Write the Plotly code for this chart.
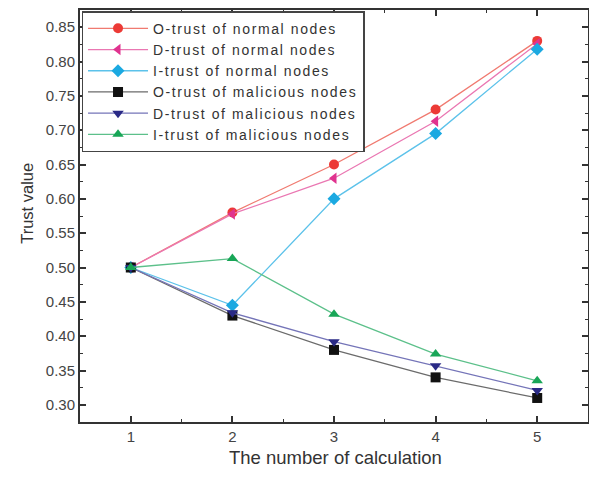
import plotly.graph_objects as go

x_vals = [1, 2, 3, 4, 5]
o_normal = [0.500, 0.580, 0.650, 0.730, 0.830]
d_normal = [0.500, 0.578, 0.630, 0.713, 0.826]
i_normal = [0.500, 0.445, 0.600, 0.695, 0.818]
o_mal = [0.500, 0.430, 0.380, 0.340, 0.310]
d_mal = [0.500, 0.434, 0.392, 0.357, 0.321]
i_mal = [0.500, 0.513, 0.432, 0.374, 0.335]

series = [
    ("O-trust of normal nodes", o_normal, "#ec3a36", "#f07a70", "circle"),
    ("D-trust of normal nodes", d_normal, "#e0338f", "#ea77b2", "triangle-left"),
    ("I-trust of normal nodes", i_normal, "#1ba9e1", "#5cc2ea", "diamond"),
    ("O-trust of malicious nodes", o_mal, "#111111", "#6b6b6b", "square"),
    ("D-trust of malicious nodes", d_mal, "#2a2a86", "#7474b8", "triangle-down"),
    ("I-trust of malicious nodes", i_mal, "#18a657", "#5cc08a", "triangle-up"),
]

FONT = "Liberation Sans, Arial"

fig = go.Figure()
for name, ys, mc, lc, sym in series:
    fig.add_trace(go.Scatter(
        x=x_vals, y=ys, name='<span style="letter-spacing:1.6px">' + name + '</span>',
        mode="lines+markers",
        line=dict(color=lc, width=1.3),
        marker=dict(symbol=sym, size=10, color=mc, line=dict(width=0)),
    ))

axis_common = dict(
    showgrid=False, zeroline=False, showline=True, linecolor="#333333", linewidth=2,
    mirror="ticks", ticks="inside", ticklen=6, tickwidth=1.5, tickcolor="#333333",
    tickfont=dict(family=FONT, size=15, color="#444444"), automargin=False,
)

# page body has an 8px default margin, so the figure is sized to fit inside the window
fig.update_layout(
    width=589, height=470,
    margin=dict(l=72, r=9, t=2, b=56),
    paper_bgcolor="white", plot_bgcolor="white",
    font=dict(family=FONT, color="#333333"),
    xaxis=dict(range=[0.5, 5.5], tickvals=x_vals,
               minor=dict(ticks="inside", ticklen=3, tickwidth=1.2, tickcolor="#333333", dtick=0.5),
               **axis_common),
    yaxis=dict(range=[0.275, 0.875], dtick=0.05, tick0=0.3, tickformat=".2f",
               minor=dict(ticks="inside", ticklen=3, tickwidth=1.2, tickcolor="#333333", dtick=0.025),
               **axis_common),
    legend=dict(x=0.003, y=0.997, xanchor="left", yanchor="top",
                bgcolor="white", bordercolor="#444444", borderwidth=1.5,
                font=dict(family=FONT, size=14, color="#333333"),
                tracegroupgap=0, itemwidth=60),
    showlegend=True,
    annotations=[
        dict(text="The number of calculation", xref="paper", yref="paper",
             x=0.503, y=-0.087, xanchor="center", yanchor="middle", showarrow=False,
             font=dict(family=FONT, size=18.5, color="#333333")),
        dict(text="Trust value", xref="paper", yref="paper",
             x=-0.106, y=0.53, xanchor="center", yanchor="middle", showarrow=False,
             textangle=-90, font=dict(family=FONT, size=16.5, color="#333333")),
    ],
)

fig.write_html("out.html")
